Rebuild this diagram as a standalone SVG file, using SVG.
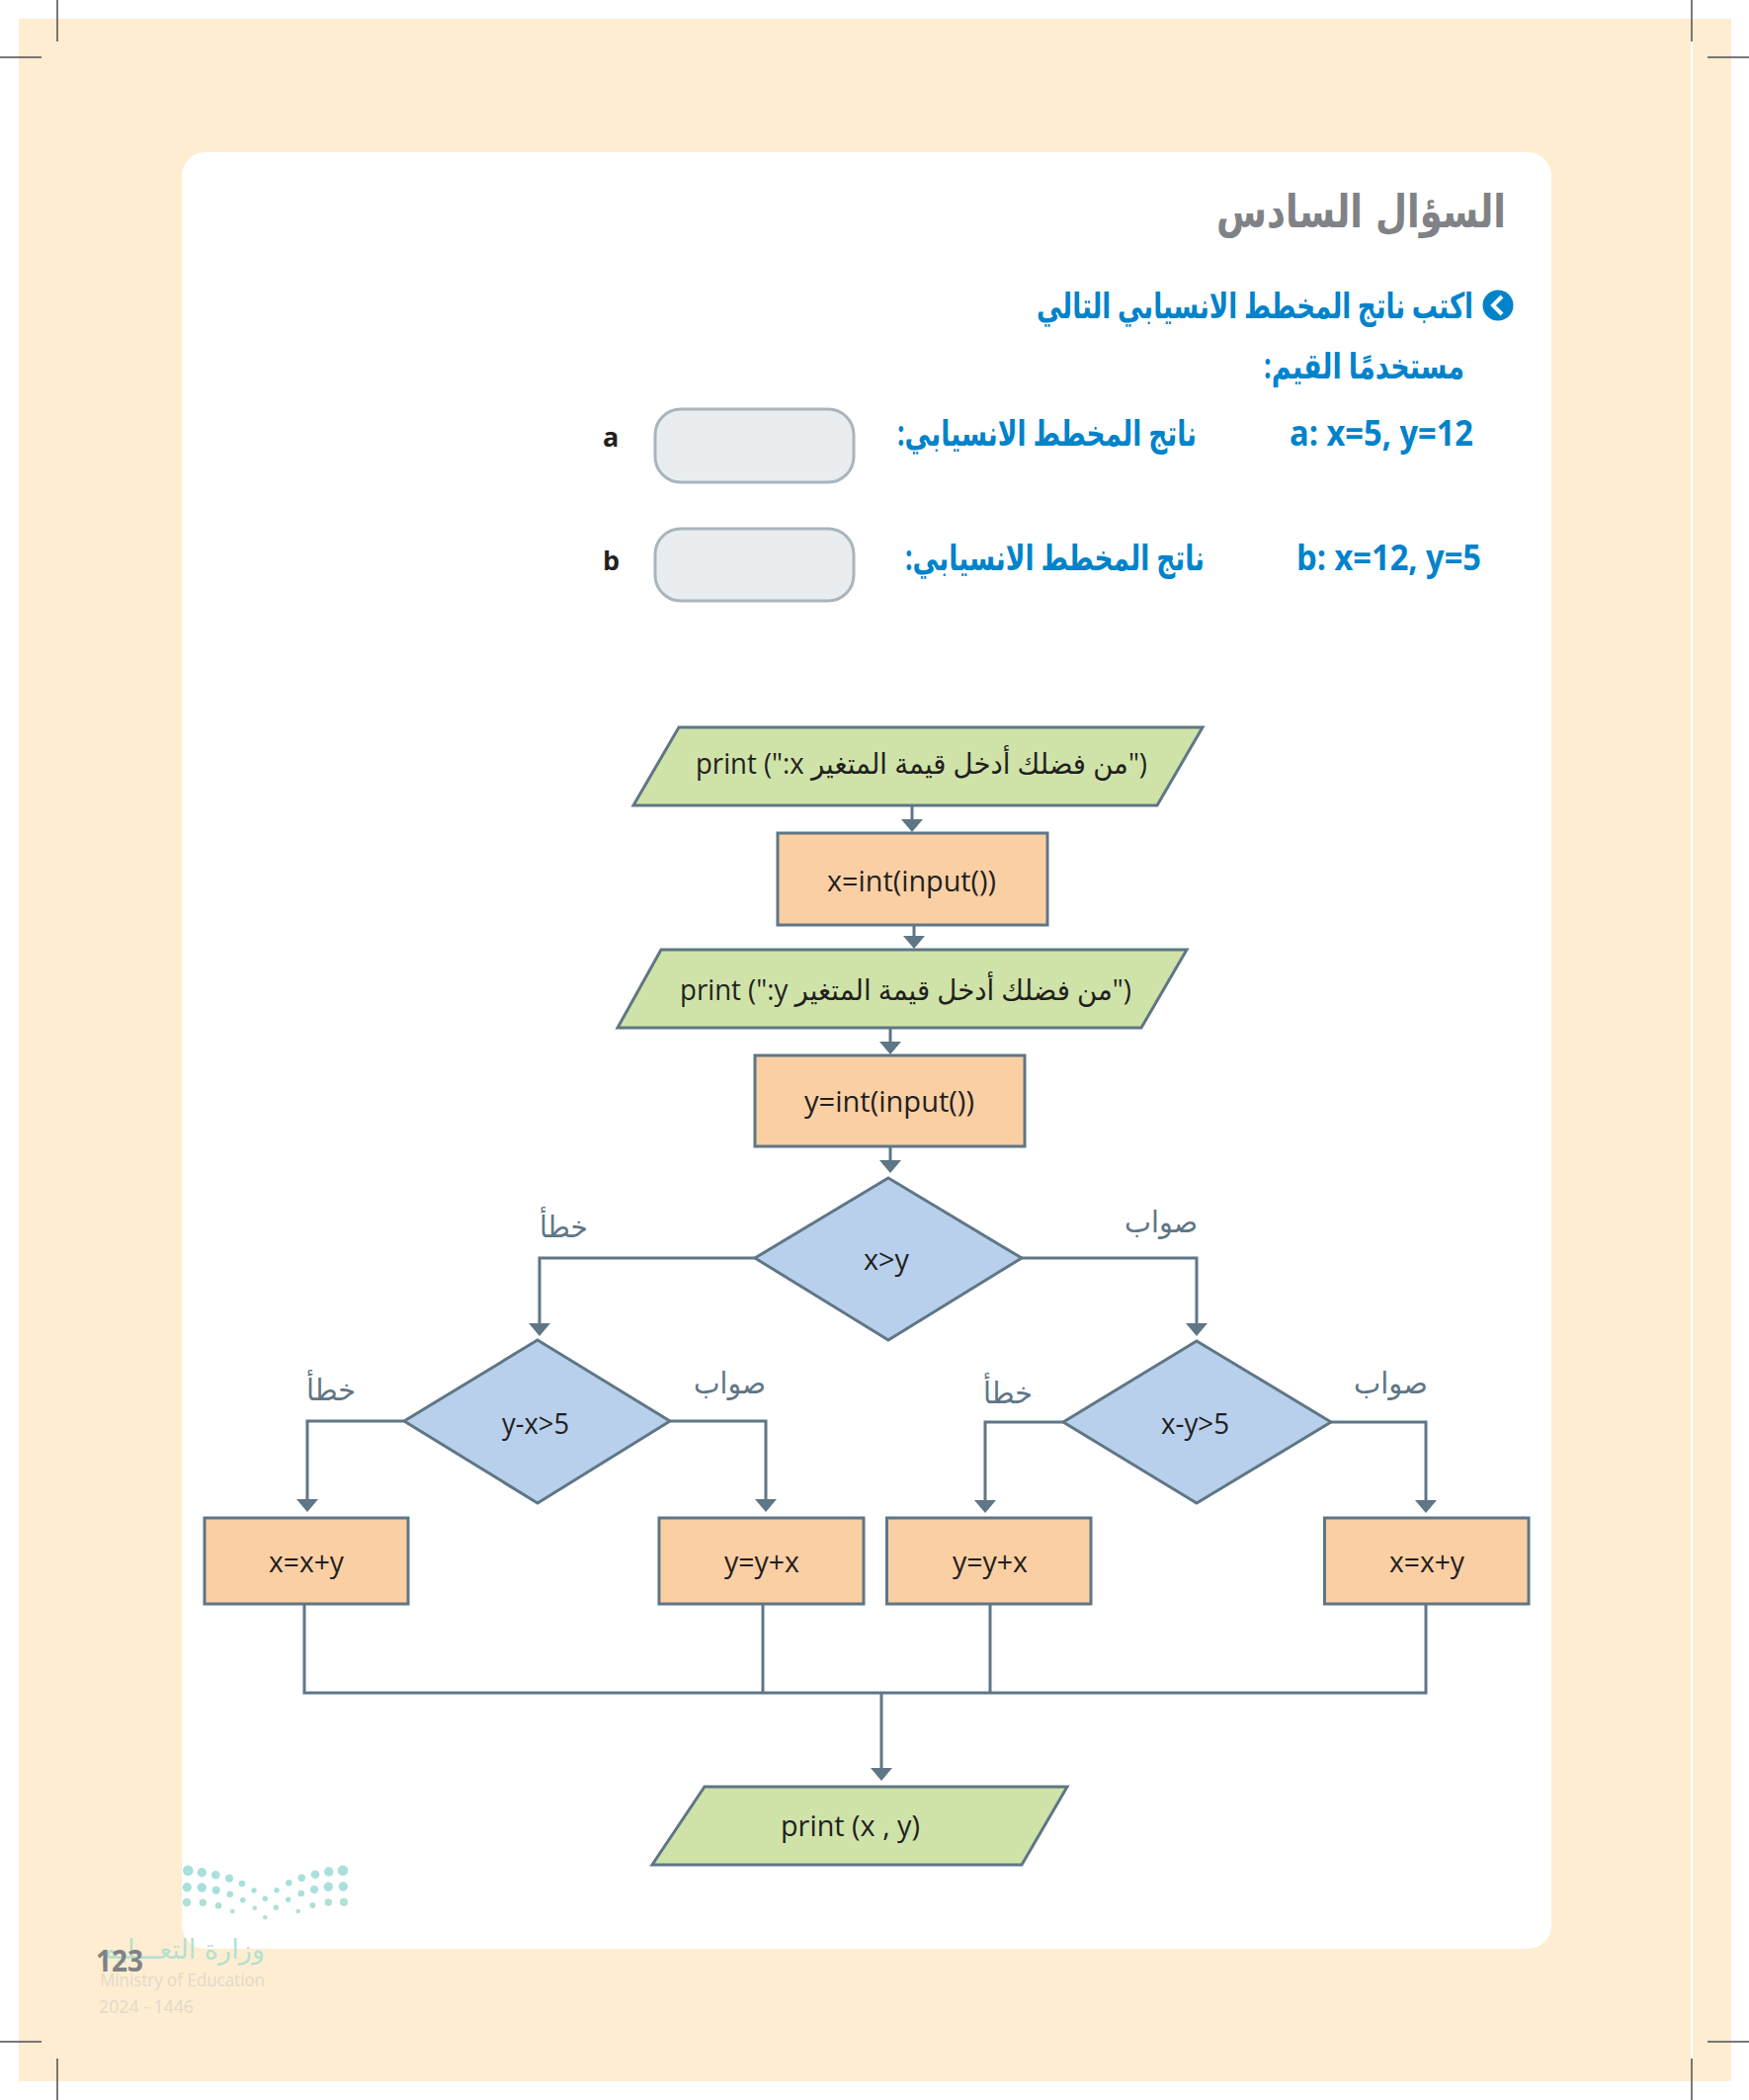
<svg xmlns="http://www.w3.org/2000/svg" width="1770" height="2125" viewBox="0 0 1770 2125">
<style>
.crop{stroke:#4d4d4f;stroke-width:1.5;fill:none}
.s{stroke:#5f7686;stroke-width:3;stroke-linejoin:miter}
.para{fill:#cfe3a9}
.proc{fill:#fbcfa4}
.dec{fill:#b9d0ec}
.box{fill:#e9edf0;stroke:#a9b5bd;stroke-width:3}
.t{font-family:"Open Sans","DejaVu Sans",sans-serif;font-size:29px;fill:#231f20}
.lab{font-family:"DejaVu Sans",sans-serif;font-size:30px;fill:#5f7686}
.blue{font-family:"Open Sans","DejaVu Sans",sans-serif;font-size:36px;font-weight:700;fill:#0083ca}
.let{font-family:"Open Sans",sans-serif;font-size:27px;font-weight:700;fill:#231f20}
.conn{fill:none;stroke:#5f7686;stroke-width:3}
.a{marker-end:url(#ah)}
.d1{fill:#a9e0dc}
.d2{fill:#b0e0d6}
</style>
<defs>
<marker id="ah" markerUnits="userSpaceOnUse" markerWidth="14" markerHeight="22" refX="0" refY="11" orient="auto" overflow="visible"><path d="M0,0 L13,11 L0,22Z" fill="#5f7686"/></marker>
</defs>
<rect width="1770" height="2125" fill="#ffffff"/>
<rect x="19" y="19" width="1733" height="2087" fill="#ffedd1"/>
<rect x="1711" y="42" width="2" height="2041" fill="#ffffff"/>
<rect x="184" y="154" width="1386" height="1818" rx="24" fill="#ffffff"/>
<g id="crop-marks">
<path class="crop" d="M58,0V42M0,58H42M1712,0V42M1728,58H1770M0,2066H42M58,2083V2125M1728,2066H1770M1712,2083V2125"/>
</g>
<g id="heading">
<text x="1231" y="230" font-family="'DejaVu Sans',sans-serif" font-size="46" font-weight="700" fill="#808285" textLength="293" lengthAdjust="spacingAndGlyphs">السؤال السادس</text>
<circle cx="1516" cy="309" r="15.5" fill="#0083ca"/>
<path d="M1520,300 L1511,309 L1520,318" fill="none" stroke="#ffffff" stroke-width="4"/>
<text class="blue" x="1049" y="322" textLength="442" lengthAdjust="spacingAndGlyphs">اكتب ناتج المخطط الانسيابي التالي</text>
<text class="blue" x="1482" y="383" textLength="203" lengthAdjust="spacingAndGlyphs" direction="rtl" unicode-bidi="plaintext">مستخدمًا القيم:</text>
</g>
<g id="row-a">
<text class="blue" x="1305" y="451" textLength="186" lengthAdjust="spacingAndGlyphs">a: x=5, y=12</text>
<text class="blue" x="1211" y="451" textLength="303" lengthAdjust="spacingAndGlyphs" direction="rtl" unicode-bidi="plaintext">ناتج المخطط الانسيابي:</text>
<rect class="box" x="663" y="414" width="201" height="74" rx="26"/>
<text class="let" x="610" y="452">a</text>
</g>
<g id="row-b">
<text class="blue" x="1312" y="577" textLength="187" lengthAdjust="spacingAndGlyphs">b: x=12, y=5</text>
<text class="blue" x="1219" y="577" textLength="303" lengthAdjust="spacingAndGlyphs" direction="rtl" unicode-bidi="plaintext">ناتج المخطط الانسيابي:</text>
<rect class="box" x="663" y="535" width="201" height="73" rx="26"/>
<text class="let" x="610" y="577">b</text>
</g>
<g id="connectors">
<path class="conn a" d="M923,815V829"/>
<path class="conn a" d="M925,936V947"/>
<path class="conn a" d="M901,1040V1054"/>
<path class="conn a" d="M901,1160V1174"/>
<path class="conn a" d="M765,1273H546V1339"/>
<path class="conn a" d="M1034,1273H1211V1339"/>
<path class="conn a" d="M410,1438H311V1517"/>
<path class="conn a" d="M678,1438H775V1517"/>
<path class="conn a" d="M1076,1439H997V1518"/>
<path class="conn a" d="M1347,1439H1443V1518"/>
<path class="conn" d="M308,1623V1713H1443V1623M772,1623V1713M1002,1623V1713"/>
<path class="conn a" d="M892,1713V1789"/>
</g>
<g id="print-x">
<polygon class="para s" points="687,736 1217,736 1171,815 641,815"/>
<text class="t" x="704" y="783" textLength="457" lengthAdjust="spacingAndGlyphs">print (":x من فضلك أدخل قيمة المتغير")</text>
</g>
<g id="input-x">
<rect class="proc s" x="787" y="843" width="273" height="93"/>
<text class="t" x="837" y="902" textLength="171" lengthAdjust="spacingAndGlyphs">x=int(input())</text>
</g>
<g id="print-y">
<polygon class="para s" points="669,961 1201,961 1155,1040 625,1040"/>
<text class="t" x="688" y="1012" textLength="457" lengthAdjust="spacingAndGlyphs">print (":y من فضلك أدخل قيمة المتغير")</text>
</g>
<g id="input-y">
<rect class="proc s" x="764" y="1068" width="273" height="92"/>
<text class="t" x="814" y="1125" textLength="172" lengthAdjust="spacingAndGlyphs">y=int(input())</text>
</g>
<g id="dec-main">
<polygon class="dec s" points="899,1192 1034,1273 899,1356 764,1273"/>
<text class="t" x="874" y="1285" textLength="46" lengthAdjust="spacingAndGlyphs">x&gt;y</text>
</g>
<g id="dec-left">
<polygon class="dec s" points="544,1356 678,1438 544,1521 409,1438"/>
<text class="t" x="508" y="1451" textLength="68" lengthAdjust="spacingAndGlyphs">y-x&gt;5</text>
</g>
<g id="dec-right">
<polygon class="dec s" points="1211,1357 1347,1439 1211,1521 1076,1439"/>
<text class="t" x="1175" y="1451" textLength="69" lengthAdjust="spacingAndGlyphs">x-y&gt;5</text>
</g>
<g id="proc-1">
<rect class="proc s" x="207" y="1536" width="206" height="87"/>
<text class="t" x="272" y="1591" textLength="76" lengthAdjust="spacingAndGlyphs">x=x+y</text>
</g>
<g id="proc-2">
<rect class="proc s" x="667" y="1536" width="207" height="87"/>
<text class="t" x="733" y="1591" textLength="76" lengthAdjust="spacingAndGlyphs">y=y+x</text>
</g>
<g id="proc-3">
<rect class="proc s" x="897.500" y="1536" width="206.500" height="87"/>
<text class="t" x="964" y="1591" textLength="76" lengthAdjust="spacingAndGlyphs">y=y+x</text>
</g>
<g id="proc-4">
<rect class="proc s" x="1340.500" y="1536" width="206.500" height="87"/>
<text class="t" x="1406" y="1591" textLength="76" lengthAdjust="spacingAndGlyphs">x=x+y</text>
</g>
<g id="print-result">
<polygon class="para s" points="713,1808 1080,1808 1034,1887 660,1887"/>
<text class="t" x="790" y="1858" textLength="141" lengthAdjust="spacingAndGlyphs">print (x , y)</text>
</g>
<g id="labels">
<text class="lab" x="546" y="1252" textLength="49" lengthAdjust="spacingAndGlyphs">خطأ</text>
<text class="lab" x="1138" y="1247" textLength="74" lengthAdjust="spacingAndGlyphs">صواب</text>
<text class="lab" x="310" y="1417" textLength="50" lengthAdjust="spacingAndGlyphs">خطأ</text>
<text class="lab" x="702" y="1410" textLength="73" lengthAdjust="spacingAndGlyphs">صواب</text>
<text class="lab" x="995" y="1420" textLength="50" lengthAdjust="spacingAndGlyphs">خطأ</text>
<text class="lab" x="1370" y="1410" textLength="75" lengthAdjust="spacingAndGlyphs">صواب</text>
</g>
<g id="footer-logo">
<g class="d1">
<circle cx="190.300" cy="1892.700" r="5.300"/><circle cx="204.300" cy="1894.700" r="4.700"/><circle cx="218.300" cy="1897.300" r="4.300"/><circle cx="232" cy="1900.700" r="4"/><circle cx="245" cy="1906" r="3.300"/><circle cx="257" cy="1913" r="2.700"/><circle cx="280" cy="1912.700" r="2.700"/><circle cx="292.300" cy="1905.300" r="3.300"/><circle cx="305.300" cy="1900.300" r="3.700"/><circle cx="319" cy="1896.700" r="4.300"/><circle cx="332.700" cy="1894" r="4.700"/><circle cx="347" cy="1892.700" r="5.300"/>
<circle cx="189.300" cy="1909.700" r="4.700"/><circle cx="204.300" cy="1910" r="4.700"/><circle cx="218.700" cy="1912.700" r="4"/><circle cx="232.700" cy="1916.700" r="3.300"/><circle cx="245.700" cy="1922.700" r="2.700"/><circle cx="268.300" cy="1921.300" r="2.700"/><circle cx="291.700" cy="1922.300" r="2.700"/><circle cx="304.700" cy="1916" r="3.300"/><circle cx="318" cy="1912" r="4"/><circle cx="332.300" cy="1909.300" r="4.700"/><circle cx="347.300" cy="1909" r="4.700"/>
</g>
<g class="d2">
<circle cx="189" cy="1925" r="4.300"/><circle cx="205.300" cy="1925.300" r="3.700"/><circle cx="221" cy="1928.300" r="3.300"/><circle cx="235.300" cy="1934" r="2.300"/><circle cx="257.700" cy="1930.700" r="2.300"/><circle cx="279.300" cy="1930.300" r="2.700"/><circle cx="301.700" cy="1934" r="2.300"/><circle cx="316.300" cy="1928" r="3"/><circle cx="332.300" cy="1925" r="3.700"/><circle cx="348" cy="1924.700" r="4"/><circle cx="268.300" cy="1940.300" r="2.300"/>
</g>
<text x="102" y="1982" font-family="'DejaVu Sans',sans-serif" font-size="27" fill="#b5e0cf" textLength="166" lengthAdjust="spacingAndGlyphs">وزارة التعـــليم</text>
<text x="101" y="2010" font-family="'Open Sans',sans-serif" font-size="18" fill="#e0dacb" textLength="167" lengthAdjust="spacingAndGlyphs">Ministry of Education</text>
<text x="100" y="2037" font-family="'Open Sans',sans-serif" font-size="19" fill="#e0dacb" textLength="96" lengthAdjust="spacingAndGlyphs">2024 - 1446</text>
</g>
<g id="page-number">
<text x="97" y="1995" font-family="'Open Sans',sans-serif" font-size="31" font-weight="700" fill="#808285" textLength="48" lengthAdjust="spacingAndGlyphs">123</text>
</g>
</svg>
